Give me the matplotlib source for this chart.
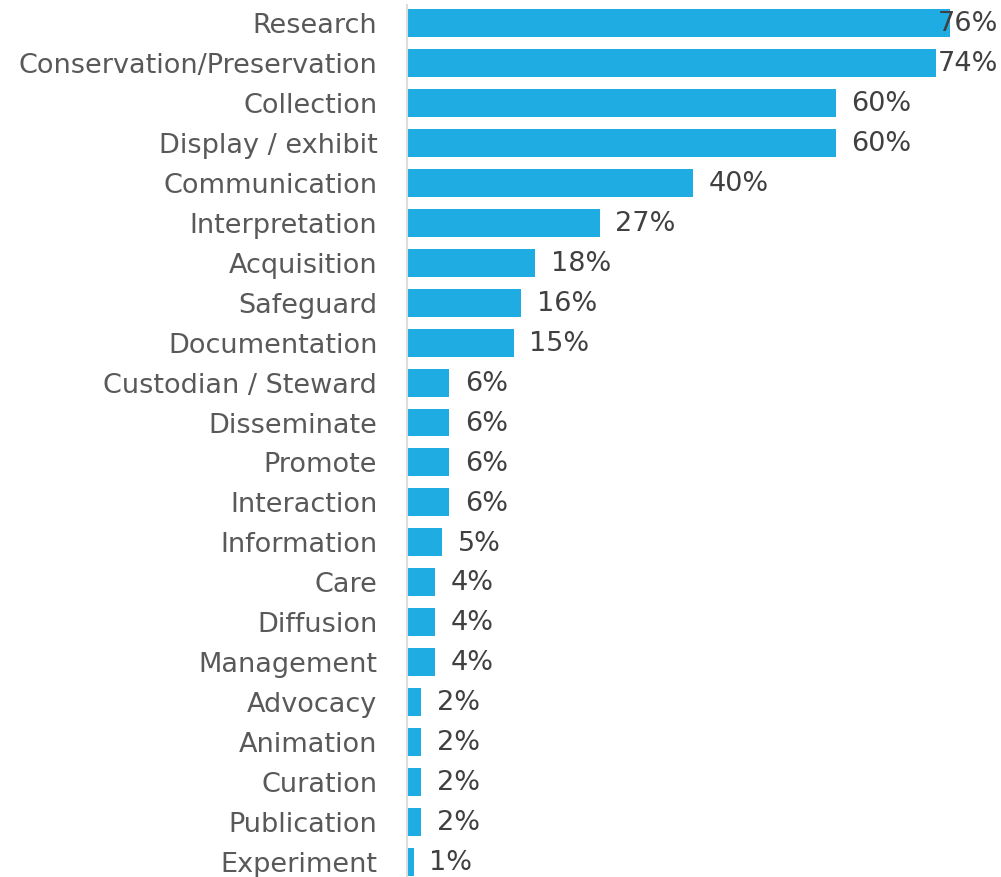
import matplotlib
matplotlib.use("Agg")
import matplotlib.pyplot as plt

categories = ["Research", "Conservation/Preservation", "Collection", "Display / exhibit",
              "Communication", "Interpretation", "Acquisition", "Safeguard", "Documentation",
              "Custodian / Steward", "Disseminate", "Promote", "Interaction", "Information",
              "Care", "Diffusion", "Management", "Advocacy", "Animation", "Curation",
              "Publication", "Experiment"]
values = [76, 74, 60, 60, 40, 27, 18, 16, 15, 6, 6, 6, 6, 5, 4, 4, 4, 2, 2, 2, 2, 1]

bar_color = "#1FACE3"
label_color = "#595959"
value_color = "#404040"

plt.rcParams["font.family"] = ["DejaVu Sans"]

fig = plt.figure(figsize=(10.01, 8.77), dpi=100)
ax = fig.add_axes([406.5 / 1001, 0, 594.5 / 1001, 1])

y = list(range(len(categories)))
ax.barh(y, values, height=0.7, color=bar_color)

xmax = 594.5 / 7.15
ax.set_xlim(0, xmax)
ax.set_ylim(21.377, -0.576)

# labels that would run off the right edge get pulled back inside
for i, v in enumerate(values):
    if v + 2.2 + 8 > xmax:
        ax.text(xmax - 0.45, i + 0.03, f"{v}%", ha="right", va="center",
                fontsize=19.5, color=value_color)
    else:
        ax.text(v + 2.2, i + 0.03, f"{v}%", ha="left", va="center",
                fontsize=19.5, color=value_color)

ax.set_yticks(y)
ax.set_yticklabels(categories, fontsize=19.5, color=label_color)
ax.tick_params(axis="y", length=0, pad=21)
ax.set_xticks([])

for s in ["top", "right", "bottom"]:
    ax.spines[s].set_visible(False)
ax.spines["left"].set_color("#DDDDDD")
ax.spines["left"].set_linewidth(1.5)
ax.spines["left"].set_bounds(21.377, -0.45)

fig.savefig("out.png", dpi=100)
